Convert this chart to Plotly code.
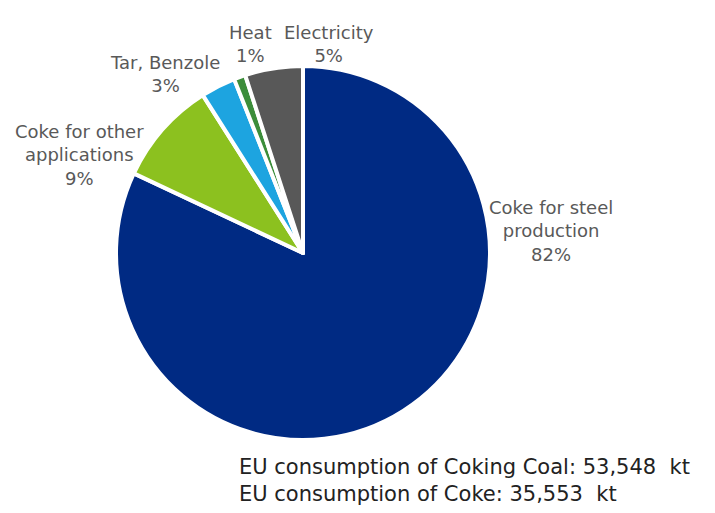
import plotly.graph_objects as go

categories = ["Coke for steel production", "Coke for other applications", "Tar, Benzole", "Heat", "Electricity"]
label_text = ["Coke for steel<br>production", "Coke for other<br>applications", "Tar, Benzole", "Heat", "Electricity"]
shares = [82, 9, 3, 1, 5]
colors = ["#002A83", "#8CC11F", "#1DA4E0", "#3C8D3A", "#585858"]
footnotes = ["EU consumption of Coking Coal: 53,548\u00a0\u00a0kt", "EU consumption of Coke: 35,553\u00a0\u00a0kt"]

W, H = 715, 513
cx, cy, r = 303, 253, 187

fig = go.Figure(go.Pie(
    labels=categories,
    values=shares,
    sort=False,
    direction="clockwise",
    rotation=0,
    marker=dict(colors=colors, line=dict(color="white", width=4)),
    textinfo="none",
    hoverinfo="label+percent",
    domain=dict(x=[(cx - r) / W, (cx + r) / W], y=[1 - (cy + r) / H, 1 - (cy - r) / H]),
    showlegend=False,
))

# label anchor positions (pixel centres of each label block)
label_pos = [(551, 231), (79, 155), (165, 74), (250, 44), (329, 44)]
total = sum(shares)
annotations = []
for txt, v, (px, py) in zip(label_text, shares, label_pos):
    annotations.append(dict(
        x=px / W, y=1 - py / H, xref="paper", yref="paper",
        text=f"{txt}<br>{round(100 * v / total)}%",
        showarrow=False, xanchor="center", yanchor="middle", align="center",
        font=dict(family="DejaVu Sans", size=18, color="#595959"),
    ))

for i, line in enumerate(footnotes):
    annotations.append(dict(
        x=237 / W, y=1 - (467 + 27 * i) / H, xref="paper", yref="paper",
        text=line, showarrow=False, xanchor="left", yanchor="middle", align="left",
        font=dict(family="DejaVu Sans", size=21, color="#222222"),
    ))

fig.update_layout(
    width=W, height=H,
    margin=dict(l=0, r=0, t=0, b=0),
    paper_bgcolor="white", plot_bgcolor="white",
    annotations=annotations,
)

fig.write_html("out.html")
